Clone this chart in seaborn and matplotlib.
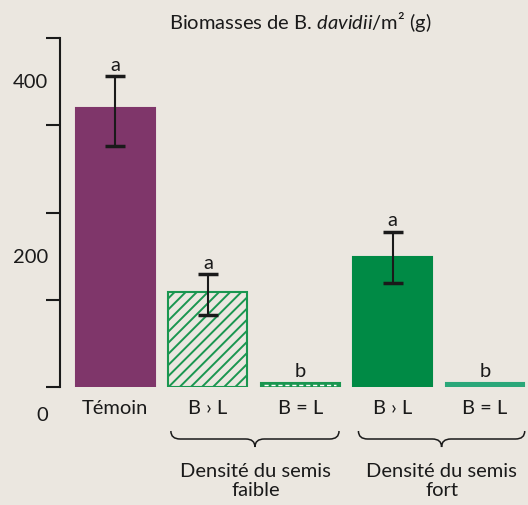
import matplotlib
matplotlib.use("Agg")
import matplotlib.pyplot as plt
import matplotlib.transforms as mtransforms
from matplotlib.path import Path
from matplotlib.patches import PathPatch
import seaborn as sns
import pandas as pd

# Données
cles = ["temoin", "faible_sup", "faible_eg", "fort_sup", "fort_eg"]
etiquettes = ["Témoin", "B \u203a L", "B = L", "B \u203a L", "B = L"]
biomasse = [320, 109, 5, 149, 5]
err_haut = [356, 129, None, 178, None]
err_bas = [276, 82, None, 119, None]
lettres = ["a", "a", "b", "a", "b"]
groupes = ["Densité du semis\nfaible", "Densité du semis\nfort"]

fond = "#ebe7e0"
noir = "#1a1a1a"
vert_hachure = "#1a9650"
couleurs = {"temoin": "#7f366a", "faible_sup": fond, "faible_eg": "#1a9650",
            "fort_sup": "#008a45", "fort_eg": "#2aa779"}
taille = 14.5

sns.set_theme(style="white")
plt.rcParams["font.family"] = ["Lato", "DejaVu Sans"]
plt.rcParams["mathtext.fontset"] = "custom"
plt.rcParams["mathtext.rm"] = "Lato"
plt.rcParams["mathtext.it"] = "Lato:italic"
plt.rcParams["hatch.linewidth"] = 1.4

df = pd.DataFrame({"cle": cles, "biomasse": biomasse})

fig = plt.figure(figsize=(5.28, 5.06), dpi=100, facecolor=fond)
ax = fig.add_axes([60 / 528, 1 - 388 / 506, 467.5 / 528, 349 / 506])
ax.set_facecolor(fond)

sns.barplot(data=df, x="cle", y="biomasse", hue="cle", order=cles,
            palette=couleurs, saturation=1, width=0.855, legend=False,
            ax=ax, errorbar=None)

for i, barre in enumerate(ax.patches):
    barre.set_linewidth(1.5)
    if cles[i] == "faible_sup":
        barre.set_hatch("///")
        barre.set_edgecolor(vert_hachure)
    else:
        barre.set_edgecolor(couleurs[cles[i]])

# trait pointillé blanc dans la barre B = L (densité faible)
i_eg = cles.index("faible_eg")
ax.hlines(biomasse[i_eg] / 2, i_eg - 0.39, i_eg + 0.39, colors="white",
          linestyles=(0, (3, 2)), linewidth=1.0, zorder=5)

# barres d'erreur
for i in range(len(cles)):
    if err_haut[i] is None:
        continue
    ax.errorbar(i, biomasse[i],
                yerr=[[biomasse[i] - err_bas[i]], [err_haut[i] - biomasse[i]]],
                fmt="none", ecolor=noir, elinewidth=1.5, capsize=7, capthick=2.5, zorder=6)

# lettres de significativité
for i in range(len(cles)):
    haut = err_haut[i] if err_haut[i] is not None else biomasse[i]
    ax.text(i, haut + 14, lettres[i], ha="center", va="center", fontsize=taille, color=noir)

ax.set_xlim(-0.6, 4.46)
ax.set_ylim(0, 400)
ax.set_yticks([0, 100, 200, 300, 400])
ax.set_yticklabels([])
ax.tick_params(axis="y", direction="out", length=10, width=1.5, color=noir, left=True)
ax.set_xticks(range(len(cles)))
ax.set_xticklabels(etiquettes, fontsize=taille, color=noir)
ax.tick_params(axis="x", length=0, pad=9)
ax.set_xlabel("")
ax.set_ylabel("")
for s in ["top", "right", "bottom"]:
    ax.spines[s].set_visible(False)
ax.spines["left"].set_color(noir)
ax.spines["left"].set_linewidth(1.5)

# étiquettes de l'axe y (décalées comme sur l'original)
trans_y = ax.get_yaxis_transform()
for val, pos in zip(["400", "200", "0"], [350, 150, -31]):
    ax.text(-0.026, pos, val, transform=trans_y, ha="right", va="center",
            fontsize=taille, color=noir, clip_on=False)

fig.text(300 / 528, 1 - 22 / 506, r"Biomasses de B. $\it{davidii}$/m² (g)",
         ha="center", va="center", fontsize=taille, color=noir)

# accolades sous les groupes
trans_b = mtransforms.blended_transform_factory(ax.transData, fig.transFigure)

def accolade(x0, x1):
    yt, yb, yp = 1 - 432 / 506, 1 - 440 / 506, 1 - 448 / 506
    xm = (x0 + x1) / 2
    d = 0.1
    verts = [(x0, yt), (x0, yb), (x0 + d, yb),
             (xm - d, yb), (xm, yb), (xm, yp),
             (xm, yb), (xm + d, yb),
             (x1 - d, yb), (x1, yb), (x1, yt)]
    codes = [Path.MOVETO, Path.CURVE3, Path.CURVE3,
             Path.LINETO, Path.CURVE3, Path.CURVE3,
             Path.CURVE3, Path.CURVE3,
             Path.LINETO, Path.CURVE3, Path.CURVE3]
    fig.add_artist(PathPatch(Path(verts, codes), transform=trans_b, facecolor="none",
                             edgecolor=noir, linewidth=1.1, clip_on=False))

accolade(0.6, 2.42)
accolade(2.63, 4.43)
for xc, texte in zip([1.52, 3.53], groupes):
    ax.text(xc, 1 - 481 / 506, texte, transform=trans_b, ha="center", va="center",
            fontsize=taille, color=noir, linespacing=1.1, clip_on=False)

fig.savefig("out.png", dpi=100, facecolor=fond)
